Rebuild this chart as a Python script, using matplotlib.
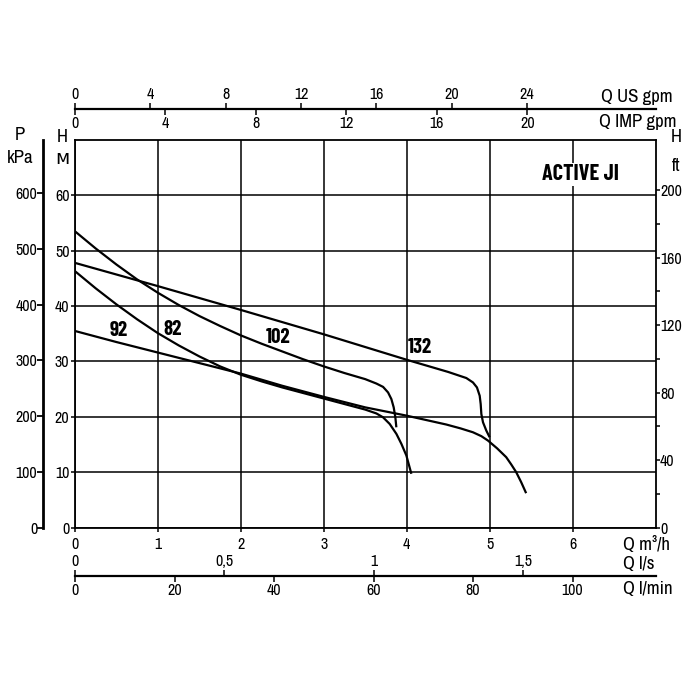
import numpy as np
import matplotlib
matplotlib.use("Agg")
import matplotlib.pyplot as plt

plt.rcParams['font.family'] = ['Archivo Narrow', 'Liberation Sans Narrow', 'DejaVu Sans']
LABEL_FONT = ['Barlow Condensed', 'Asap Condensed', 'DejaVu Sans']

# pump curves, Q in m3/h, H in m
q_102 = [0, 0.25, 0.5, 0.75, 1.0, 1.25, 1.5, 1.75, 2.0, 2.25, 2.5, 2.75, 3.0, 3.25, 3.5,
         3.635, 3.715, 3.775, 3.815, 3.843, 3.863, 3.875]
h_102 = [53.5, 50.4, 47.5, 44.8, 42.4, 40.2, 38.2, 36.4, 34.7, 33.2, 31.8, 30.4, 29.1, 27.9, 26.8,
         26.0, 25.4, 24.4, 23.2, 21.7, 19.9, 18.1]

q_132 = [0, 1, 2, 3, 4, 4.5, 4.719, 4.799, 4.847, 4.880, 4.892, 4.900, 4.920, 4.960, 5.0]
h_132 = [47.8, 43.6, 39.3, 34.9, 30.3, 28.1, 27.0, 26.2, 25.3, 23.8, 22.3, 20.5, 19.0, 17.5, 16.3]

q_82 = [0, 0.25, 0.5, 0.75, 1, 1.25, 1.5, 1.75, 2, 2.25, 2.5, 3, 3.5,
        3.635, 3.715, 3.795, 3.876, 3.936, 3.996, 4.056]
h_82 = [46.3, 43.2, 40.3, 37.6, 35.1, 32.9, 30.9, 29.1, 27.6, 26.4, 25.3, 23.3, 21.3,
        20.6, 19.9, 18.7, 16.9, 15.1, 13.0, 9.7]

q_92 = [0, 0.5, 1, 1.5, 2, 2.5, 3, 3.5, 4, 4.478, 4.65, 4.799, 4.9, 4.98, 5.09, 5.2, 5.26,
        5.32, 5.38, 5.44]
h_92 = [35.5, 33.5, 31.6, 29.7, 27.8, 25.6, 23.6, 21.7, 20.2, 18.6, 17.9, 17.2, 16.5, 15.7, 14.3,
        12.7, 11.4, 10.0, 8.2, 6.2]

curve_names = ['92', '82', '102', '132']
label_q = [0.53, 1.18, 2.45, 4.16]
label_h = [35.6, 35.8, 34.3, 32.5]

title = 'ACTIVE JI'

q_ticks = [0, 1, 2, 3, 4, 5, 6]
h_ticks = [0, 10, 20, 30, 40, 50, 60]
thick_q = [2, 5]
us_ticks = [0, 4, 8, 12, 16, 20, 24]
imp_ticks = [0, 4, 8, 12, 16, 20]
ls_ticks = [0, 0.5, 1, 1.5]
ls_labels = ['0', '0,5', '1', '1,5']
lmin_ticks = [0, 20, 40, 60, 80, 100]
kpa_ticks = [0, 100, 200, 300, 400, 500, 600]
ft_ticks = [0, 40, 80, 120, 160, 200]
ft_minor = [20, 60, 100, 140, 180]

Q_MAX, H_MAX = 7, 70
US_GPM = 4.4029
IMP_GPM = 3.6662
L_S = 1 / 3.6
L_MIN = 1000 / 60
FT = 3.2808
KPA = 9.93

W = 686.0
def fx(x):
    return x / W
def fy(y):
    return 1 - y / W

TICK_FS = 11.5
fig = plt.figure(figsize=(6.86, 6.86), dpi=100)
left, right, top, bottom = 75, 655.5, 140, 527.5
ax = fig.add_axes([fx(left), fy(bottom), fx(right) - fx(left), fy(top) - fy(bottom)])

ax.set_xlim(0, Q_MAX)
ax.set_ylim(0, H_MAX)
ax.set_xticks(q_ticks)
ax.set_yticks(h_ticks)
ax.grid(True, color='black', linewidth=1.1)
for t in ax.xaxis.get_major_ticks():
    if t.get_loc() in thick_q:
        t.gridline.set_linewidth(2.0)
for s in ax.spines.values():
    s.set_linewidth(1.3)
ax.tick_params(direction='out', length=3, width=1.1, labelsize=TICK_FS, pad=1.0)
ax.tick_params(axis='x', pad=4)

lw = 1.6
for qs, hs in [(q_102, h_102), (q_132, h_132), (q_82, h_82), (q_92, h_92)]:
    ax.plot(qs, hs, color='black', lw=lw, solid_capstyle='butt', solid_joinstyle='round')

for name, qq, hh in zip(curve_names, label_q, label_h):
    ax.text(qq, hh, name, ha='center', va='center', fontsize=15, family=LABEL_FONT,
            fontweight='bold', color='black')

ax.text(6.1, 63.8, title, ha='center', va='center', fontsize=16, family=LABEL_FONT,
        fontweight='bold', color='black',
        bbox=dict(facecolor='white', edgecolor='none', pad=1))

# right axis in feet
axr = ax.twinx()
axr.set_ylim(0, H_MAX * FT)
axr.set_yticks(ft_ticks)
axr.set_yticks(ft_minor, minor=True)
axr.tick_params(direction='out', length=3, width=1.1, labelsize=TICK_FS, pad=0.3)
axr.tick_params(which='minor', direction='out', length=3, width=1.1)
for s in axr.spines.values():
    s.set_visible(False)

# left axis in kPa
axp = fig.add_axes([fx(43.3), fy(bottom), 0.0001, fy(top) - fy(bottom)])
axp.set_ylim(0, H_MAX * KPA)
axp.set_yticks(kpa_ticks)
axp.set_xticks([])
for k in ['top', 'right', 'bottom']:
    axp.spines[k].set_visible(False)
axp.spines['left'].set_linewidth(2.0)
axp.tick_params(direction='out', length=4, width=1.3, labelsize=TICK_FS, pad=0.3)
axp.patch.set_visible(False)

# extra flow scales above and below the chart
def flow_axis(y, factor, ticks, side, labels=None):
    a = fig.add_axes([fx(left), fy(y), fx(right) - fx(left), 0.0001])
    a.set_xlim(0, Q_MAX * factor)
    a.set_yticks([])
    a.patch.set_visible(False)
    for s in a.spines.values():
        s.set_visible(False)
    if side == 'top':
        a.xaxis.tick_top()
    a.set_xticks(ticks)
    if labels is not None:
        a.set_xticklabels(labels)
    a.tick_params(direction='out', length=4, width=1.1, labelsize=TICK_FS, pad=0.8)
    return a

a_us = flow_axis(109, US_GPM, us_ticks, 'top')
a_imp = flow_axis(109, IMP_GPM, imp_ticks, 'bottom')
a_imp.spines['bottom'].set_visible(True)
a_imp.spines['bottom'].set_linewidth(1.6)

a_ls = flow_axis(576, L_S, ls_ticks, 'top', ls_labels)
a_lmin = flow_axis(576, L_MIN, lmin_ticks, 'bottom')
a_lmin.spines['bottom'].set_visible(True)
a_lmin.spines['bottom'].set_linewidth(1.6)

# unit labels
fs = 13.5
fig.text(fx(601), fy(97), 'Q US gpm', ha='left', va='center', fontsize=fs)
fig.text(fx(599), fy(122), 'Q IMP gpm', ha='left', va='center', fontsize=fs)
fig.text(fx(623), fy(544), 'Q m³/h', ha='left', va='center', fontsize=fs)
fig.text(fx(623), fy(564), 'Q l/s', ha='left', va='center', fontsize=fs)
fig.text(fx(623), fy(589), 'Q l/min', ha='left', va='center', fontsize=fs)
fig.text(fx(20), fy(135), 'P', ha='center', va='center', fontsize=fs)
fig.text(fx(20), fy(158), 'kPa', ha='center', va='center', fontsize=fs)
fig.text(fx(62), fy(137), 'H', ha='center', va='center', fontsize=fs)
fig.text(fx(62), fy(159), 'м', ha='center', va='center', fontsize=fs)
fig.text(fx(676), fy(137), 'H', ha='center', va='center', fontsize=fs)
fig.text(fx(676), fy(166), 'ft', ha='center', va='center', fontsize=fs)

fig.savefig('out.png', dpi=100, facecolor='white')
